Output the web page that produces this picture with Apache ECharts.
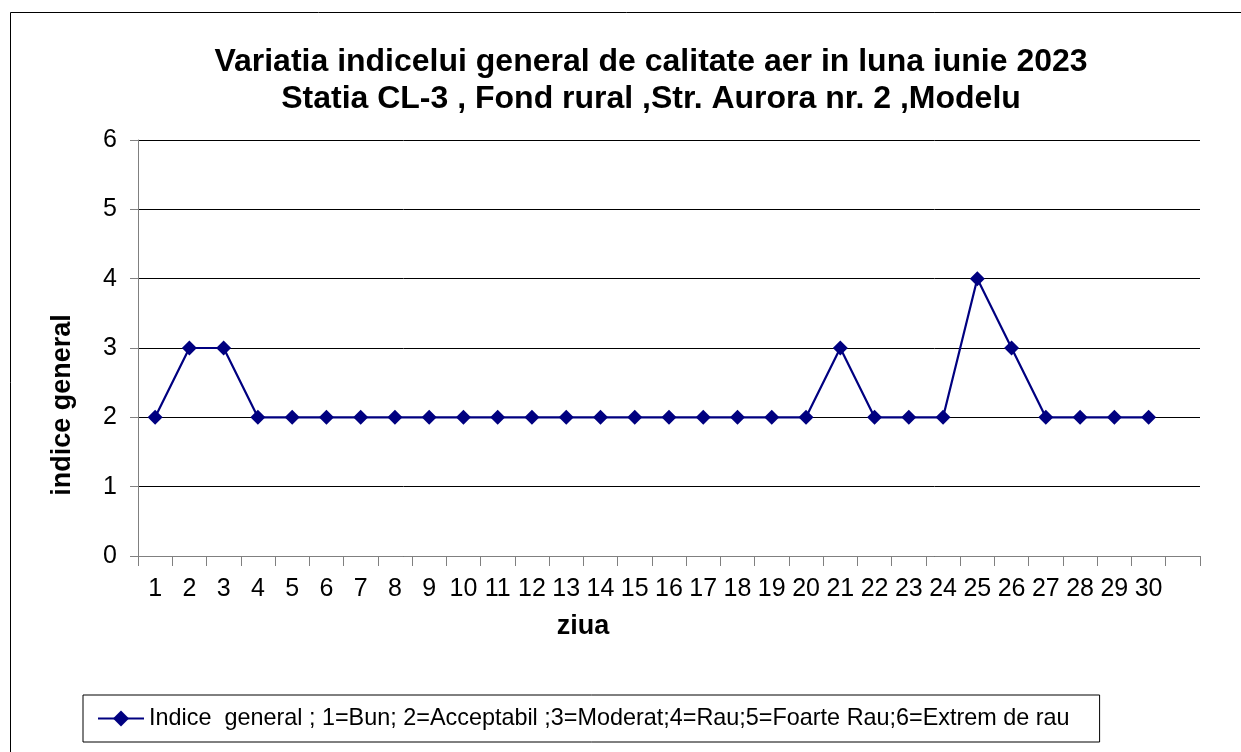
<!DOCTYPE html>
<html>
<head>
<meta charset="utf-8">
<script src="https://cdn.jsdelivr.net/npm/echarts@6/dist/echarts.min.js"></script>
<style>
html,body{margin:0;padding:0;background:#fff;}
#chart{width:1241px;height:752px;}
</style>
</head>
<body>
<div id="chart"></div>
<script>
const days = ['1','2','3','4','5','6','7','8','9','10','11','12','13','14','15','16','17','18','19','20','21','22','23','24','25','26','27','28','29','30',''];
const indiceValues = [2,3,3,2,2,2,2,2,2,2,2,2,2,2,2,2,2,2,2,2,3,2,2,2,4,3,2,2,2,2];
const yTicks = [0,1,2,3,4,5,6];
const titleLines = ['Variatia indicelui general de calitate aer in luna iunie 2023','Statia CL-3 , Fond rural ,Str. Aurora nr. 2 ,Modelu'];
const seriesName = 'Indice  general ; 1=Bun; 2=Acceptabil ;3=Moderat;4=Rau;5=Foarte Rau;6=Extrem de rau';

const chart = echarts.init(document.getElementById('chart'), null, {renderer:'canvas'});
const font = 'Liberation Sans, Arial, sans-serif';
chart.setOption({
  animation:false,
  backgroundColor:'#fff',
  textStyle:{fontFamily:font},
  title:{
    text: titleLines.join('\n'),
    left: 646, top: 39, textAlign:'center',
    textStyle:{fontFamily:font,fontWeight:'bold',fontSize:32,color:'#000',lineHeight:37}
  },
  grid:{left:138, top:140, width:1062, height:416, containLabel:false},
  xAxis:{
    type:'category',
    data: days,
    boundaryGap:true,
    axisLine:{lineStyle:{color:'#808080',width:1}},
    axisTick:{show:true,length:10,alignWithLabel:false,interval:0,lineStyle:{color:'#808080'}},
    axisLabel:{interval:0,fontSize:25,color:'#000',margin:21,fontFamily:font},
    splitLine:{show:false}
  },
  yAxis:{
    type:'value',
    min:0,max:6,interval:1,
    axisLine:{show:true,lineStyle:{color:'#808080',width:1}},
    axisTick:{show:true,length:8,lineStyle:{color:'#808080'}},
    axisLabel:{fontSize:25,color:'#000',margin:21,fontFamily:font,
      formatter:function(v){return yTicks.indexOf(v)>=0?String(v):'';}},
    splitLine:{show:true,lineStyle:{color:'#000',width:1}}
  },
  legend:{
    show:true,
    left:83, top:695,
    padding:[12,30,12,14],
    itemWidth:46, itemHeight:20, itemGap:5,
    borderColor:'#000', borderWidth:1,
    textStyle:{fontSize:23.4,color:'#000',fontFamily:font},
    data:[{name:seriesName}]
  },
  series:[{
    name:seriesName,
    type:'line',
    data:indiceValues,
    symbol:'diamond',
    symbolSize:15,
    lineStyle:{color:'#000080',width:2.2},
    itemStyle:{color:'#000080'}
  }],
  graphic:[
    {type:'rect',shape:{x:10.5,y:12.5,width:1400,height:900},style:{fill:'none',stroke:'#000',lineWidth:1},z:-1,silent:true},
    {type:'text',x:63,y:405,rotation:Math.PI/2,style:{text:'indice general',fontFamily:font,fontWeight:'bold',fontSize:27,fill:'#000',align:'center',verticalAlign:'middle'}},
    {type:'text',x:583,y:627,style:{text:'ziua',fontFamily:font,fontWeight:'bold',fontSize:27,fill:'#000',align:'center',verticalAlign:'middle'}}
  ]
});
</script>
</body>
</html>
